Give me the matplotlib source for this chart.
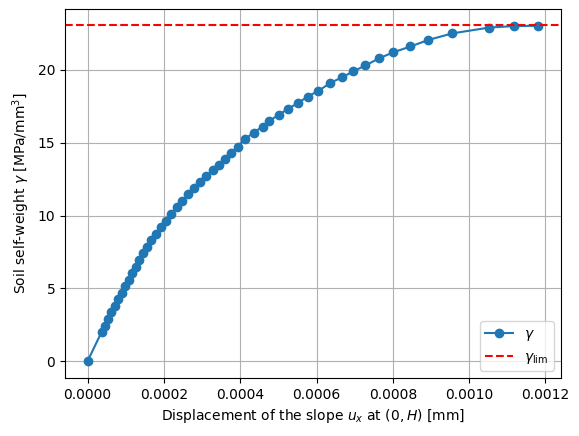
import numpy as np
import matplotlib
matplotlib.use("Agg")
import matplotlib.pyplot as plt

# displacement u_x at (0, H) [mm]
ux = [0.0, 3.67e-5, 4.53e-5, 5.37e-5, 6.24e-5, 7.13e-5, 8.02e-5, 8.91e-5,
      9.82e-5, 1.074e-4, 1.168e-4, 1.263e-4, 1.360e-4, 1.457e-4, 1.556e-4,
      1.658e-4, 1.782e-4, 1.913e-4, 2.043e-4, 2.188e-4, 2.332e-4, 2.476e-4,
      2.633e-4, 2.790e-4, 2.947e-4, 3.105e-4, 3.275e-4, 3.432e-4, 3.602e-4,
      3.760e-4, 3.930e-4, 4.139e-4, 4.349e-4, 4.585e-4, 4.768e-4, 5.004e-4,
      5.240e-4, 5.502e-4, 5.764e-4, 6.052e-4, 6.366e-4, 6.681e-4, 6.969e-4,
      7.283e-4, 7.650e-4, 8.017e-4, 8.462e-4, 8.934e-4, 9.562e-4, 1.0532e-3,
      1.1187e-3, 1.1816e-3]

# soil self-weight gamma
gamma = [0.0, 2.0, 2.45, 2.9, 3.35, 3.8, 4.25, 4.7, 5.15, 5.6, 6.05, 6.5,
         6.95, 7.4, 7.85, 8.3, 8.75, 9.2, 9.65, 10.1, 10.55, 11.0, 11.45,
         11.9, 12.3, 12.7, 13.1, 13.5, 13.9, 14.3, 14.73, 15.27, 15.68, 16.1,
         16.5, 16.9, 17.3, 17.7, 18.15, 18.56, 19.1, 19.5, 19.9, 20.3, 20.8,
         21.2, 21.6, 22.05, 22.5, 22.9, 23.0, 23.02]

gamma_lim = 23.08

fig = plt.figure(figsize=(5.79, 4.36), dpi=100)
ax = fig.add_axes([65/579, 58/436, 496/579, 369/436])

ax.plot(ux, gamma, "-o", label=r"$\gamma$")
ax.axhline(gamma_lim, color="r", linestyle="--", label=r"$\gamma_{\mathrm{lim}}$")

ax.set_xlabel(r"Displacement of the slope $u_x$ at $(0, H)$ [mm]")
ax.set_ylabel(r"Soil self-weight $\gamma$ [MPa/mm$^3$]")
ax.grid(True)
ax.legend(loc="lower right")

plt.savefig("out.png")
